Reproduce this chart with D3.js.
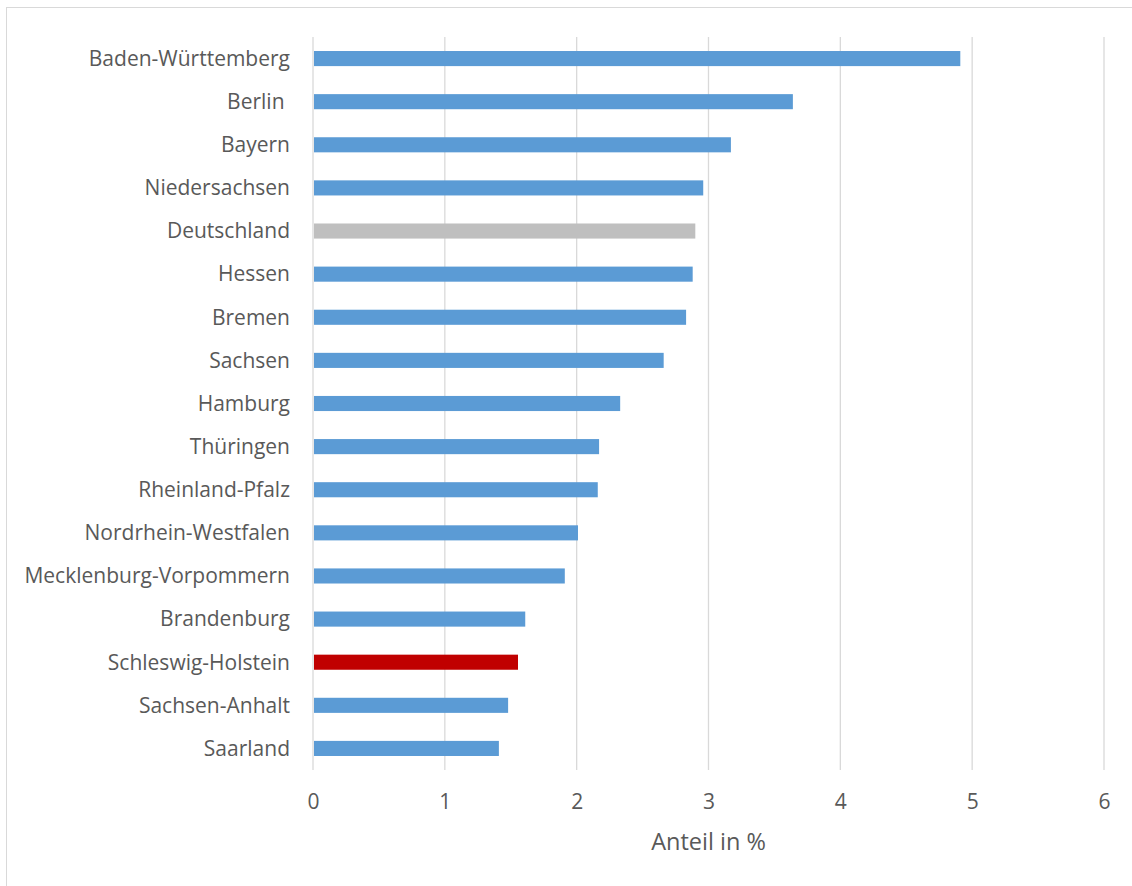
<!DOCTYPE html>
<html>
<head>
<meta charset="utf-8">
<script src="https://cdn.jsdelivr.net/npm/d3@7"></script>
<style>
  body { margin: 0; background: #fff; }
  text { font-family: "Open Sans", sans-serif; fill: #595959; }
</style>
</head>
<body>
<div id="chart"></div>
<script>
// data, top to bottom
const laender = ["Baden-Württemberg", "Berlin ", "Bayern", "Niedersachsen", "Deutschland", "Hessen",
  "Bremen", "Sachsen", "Hamburg", "Thüringen", "Rheinland-Pfalz", "Nordrhein-Westfalen",
  "Mecklenburg-Vorpommern", "Brandenburg", "Schleswig-Holstein", "Sachsen-Anhalt", "Saarland"];
const anteil = [4.91, 3.64, 3.17, 2.96, 2.90, 2.88, 2.83, 2.66, 2.33, 2.17, 2.16, 2.01, 1.91, 1.61, 1.555, 1.48, 1.41];
const xTicks = [0, 1, 2, 3, 4, 5, 6];
const highlight = { "Deutschland": "#bfbfbf", "Schleswig-Holstein": "#c00000" };

const W = 1132, H = 886;
let margin = {top: 37, right: 28, bottom: 116, left: 313},
    width = W - margin.left - margin.right,
    height = H - margin.top - margin.bottom;

let svg = d3.select("#chart").append("svg")
  .attr("width", W).attr("height", H);

// outer frame
svg.append("rect")
  .attr("x", 6.5).attr("y", 7.5)
  .attr("width", W).attr("height", H)
  .attr("fill", "none").attr("stroke", "#d9d9d9");

let g = svg.append("g")
  .attr("transform", "translate(" + margin.left + "," + margin.top + ")");

let x = d3.scaleLinear().domain([0, 6]).range([0, width]);
let y = d3.scaleBand().domain(laender).range([0, height]).paddingInner(0.65).paddingOuter(0.325);

// grid lines
g.selectAll(".grid")
  .data(xTicks)
  .enter().append("line")
    .attr("x1", d => x(d)).attr("x2", d => x(d))
    .attr("y1", 0).attr("y2", height)
    .attr("stroke", "#d9d9d9").attr("stroke-width", 1.3);

// bars
g.selectAll(".bar")
  .data(laender)
  .enter().append("rect")
    .attr("x", x(0) + 1)
    .attr("y", d => y(d))
    .attr("width", (d, i) => x(anteil[i]) - x(0) - 1)
    .attr("height", y.bandwidth())
    .attr("fill", d => highlight[d] || "#5b9bd5");

// category labels
g.selectAll(".lab")
  .data(laender)
  .enter().append("text")
    .attr("x", -23)
    .attr("y", d => y(d) + y.bandwidth() / 2)
    .attr("dy", "0.35em")
    .attr("text-anchor", "end")
    .style("white-space", "pre")
    .style("font-size", "21px")
    .text(d => d);

// x axis
let xAxis = g.append("g")
  .attr("transform", "translate(0," + height + ")")
  .call(d3.axisBottom(x).tickValues(xTicks).tickSize(0).tickPadding(24).tickFormat(d3.format("d")));
xAxis.select(".domain").remove();
xAxis.selectAll("text").style("font-size", "21px").attr("fill", "#595959");

g.append("text")
  .attr("x", width / 2)
  .attr("y", height + 80)
  .attr("text-anchor", "middle")
  .style("font-size", "23.5px")
  .text("Anteil in %");
</script>
</body>
</html>
